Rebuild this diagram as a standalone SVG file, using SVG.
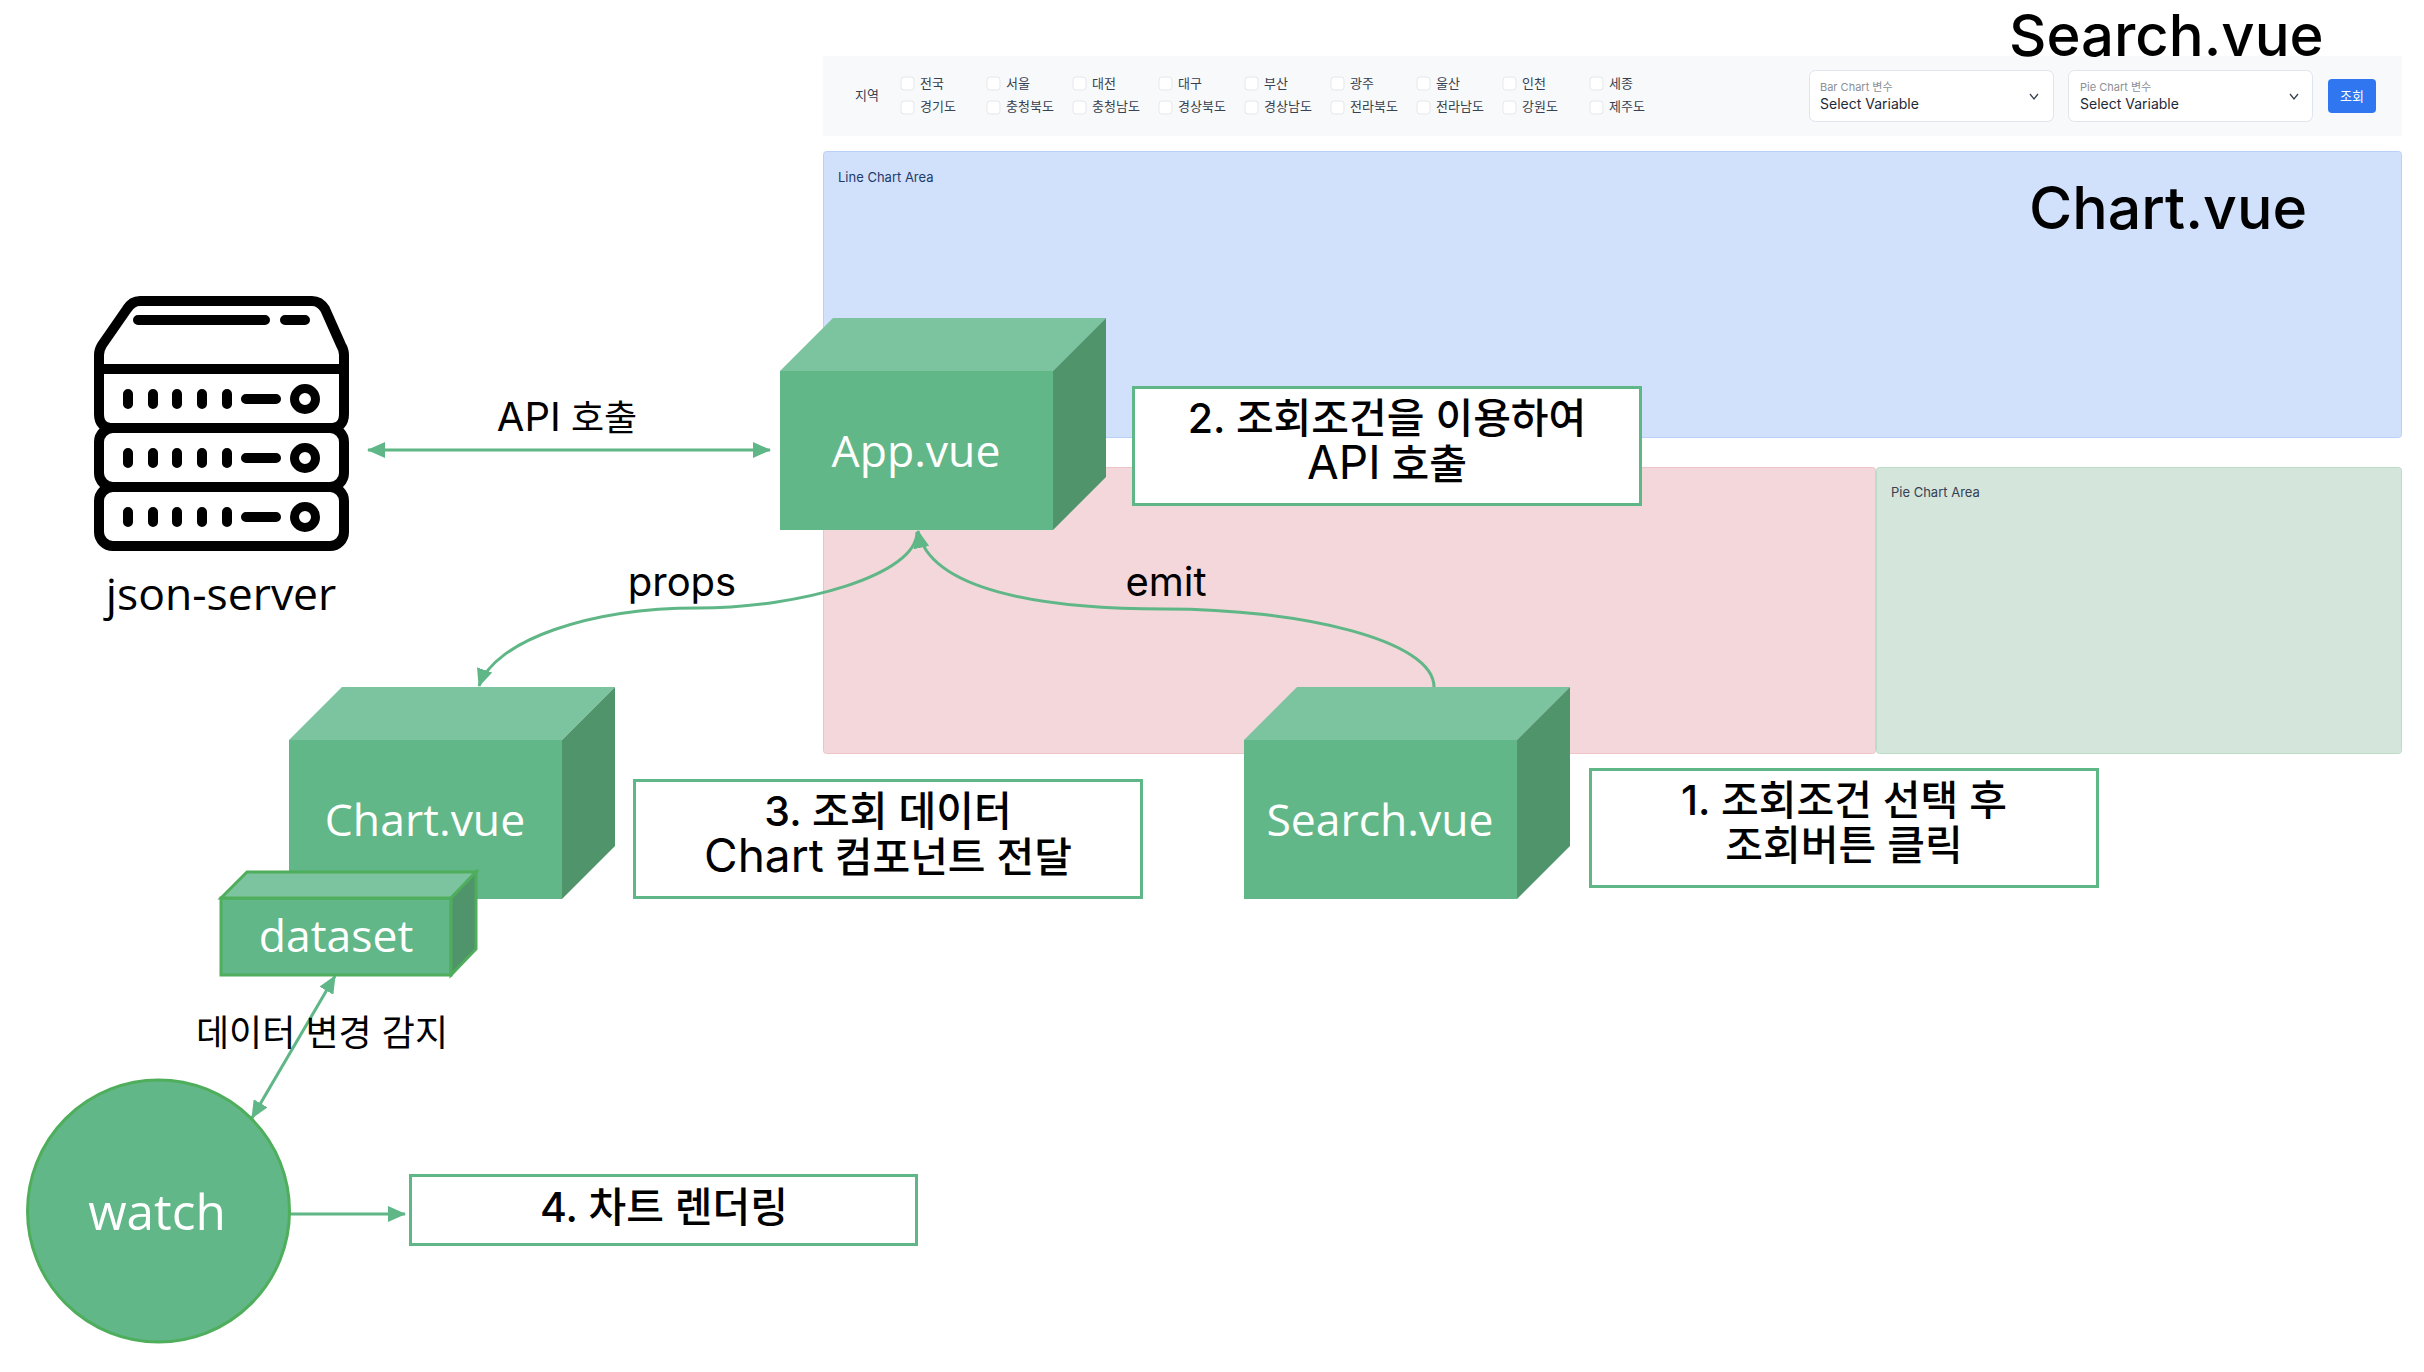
<svg xmlns="http://www.w3.org/2000/svg" width="2424" height="1372" viewBox="0 0 2424 1372">
<style>
text{font-family:Inter,"Noto Sans CJK KR",sans-serif;fill:#000}
.ui{font-family:Inter,"Noto Sans CJK KR",sans-serif}
.big{font-family:Inter,"Liberation Sans",sans-serif;font-size:58px;font-weight:500}
.r{font-size:13px;fill:#374151}
.cb{fill:#fff;stroke:#e5e7eb;stroke-width:1}
.sel{fill:#fff;stroke:#dfe5ec;stroke-width:1}
.lab{font-size:36px;text-anchor:middle}
.lat{font-size:40px}
.note{fill:#fff;stroke:#5fb686;stroke-width:3}
.nt{font-size:41px;text-anchor:middle;font-weight:500}
.latn{font-size:46px;font-weight:400}
.f{fill:#61b787}.t{fill:#7cc49f}.s{fill:#4f946b}
.nv{font-family:"Open Sans","Noto Sans",sans-serif;fill:#fff;font-size:44.500px;text-anchor:middle}
.conn{fill:none;stroke:#5fb686;stroke-width:3}
.ico{fill:none;stroke:#000;stroke-width:10;stroke-linecap:round;stroke-linejoin:round}
.dot{fill:none;stroke:#000;stroke-width:10;stroke-linecap:round}
</style>
<defs>
<marker id="ah" viewBox="0 0 18 16" refX="17" refY="8" markerWidth="18" markerHeight="16" markerUnits="userSpaceOnUse" orient="auto-start-reverse"><path d="M0 0L18 8L0 16Z" fill="#5fb686"/></marker>
<g id="unit">
<path class="dot" d="M128 0v10M153 0v10M177 0v10M202 0v10M227 0v10M246 5h30"/>
<circle cx="305" cy="5" r="10.500" fill="none" stroke="#000" stroke-width="9"/>
</g>
</defs>

<g id="screen">
<rect x="823" y="56" width="1579" height="80" fill="#f8f9fa"/>
<rect x="823.500" y="151.500" width="1578" height="286" rx="3" fill="#d1e1fb" stroke="#b9d0f7"/>
<rect x="823.500" y="467.500" width="1052" height="286" rx="3" fill="#f3d7da" stroke="#ecc4c8"/>
<rect x="1876.500" y="467.500" width="525" height="286" rx="3" fill="#d4e5dc" stroke="#bcdcc6"/>
<text class="ui" x="838" y="182" font-size="13" style="fill:#1f3a6b">Line Chart Area</text>
<text class="ui" x="1891" y="497" font-size="13" style="fill:#374151">Pie Chart Area</text>
<text class="ui r" x="855" y="100">지역</text>
<g id="checks">
<rect class="cb" x="901" y="77" width="13" height="13" rx="3"/><rect class="cb" x="901" y="101" width="13" height="13" rx="3"/>
<rect class="cb" x="987" y="77" width="13" height="13" rx="3"/><rect class="cb" x="987" y="101" width="13" height="13" rx="3"/>
<rect class="cb" x="1073" y="77" width="13" height="13" rx="3"/><rect class="cb" x="1073" y="101" width="13" height="13" rx="3"/>
<rect class="cb" x="1159" y="77" width="13" height="13" rx="3"/><rect class="cb" x="1159" y="101" width="13" height="13" rx="3"/>
<rect class="cb" x="1245" y="77" width="13" height="13" rx="3"/><rect class="cb" x="1245" y="101" width="13" height="13" rx="3"/>
<rect class="cb" x="1331" y="77" width="13" height="13" rx="3"/><rect class="cb" x="1331" y="101" width="13" height="13" rx="3"/>
<rect class="cb" x="1417" y="77" width="13" height="13" rx="3"/><rect class="cb" x="1417" y="101" width="13" height="13" rx="3"/>
<rect class="cb" x="1503" y="77" width="13" height="13" rx="3"/><rect class="cb" x="1503" y="101" width="13" height="13" rx="3"/>
<rect class="cb" x="1590" y="77" width="13" height="13" rx="3"/><rect class="cb" x="1590" y="101" width="13" height="13" rx="3"/>
<text class="ui r" x="920" y="88">전국</text><text class="ui r" x="920" y="111">경기도</text>
<text class="ui r" x="1006" y="88">서울</text><text class="ui r" x="1006" y="111">충청북도</text>
<text class="ui r" x="1092" y="88">대전</text><text class="ui r" x="1092" y="111">충청남도</text>
<text class="ui r" x="1178" y="88">대구</text><text class="ui r" x="1178" y="111">경상북도</text>
<text class="ui r" x="1264" y="88">부산</text><text class="ui r" x="1264" y="111">경상남도</text>
<text class="ui r" x="1350" y="88">광주</text><text class="ui r" x="1350" y="111">전라북도</text>
<text class="ui r" x="1436" y="88">울산</text><text class="ui r" x="1436" y="111">전라남도</text>
<text class="ui r" x="1522" y="88">인천</text><text class="ui r" x="1522" y="111">강원도</text>
<text class="ui r" x="1609" y="88">세종</text><text class="ui r" x="1609" y="111">제주도</text>
</g>
<g id="selects">
<rect class="sel" x="1809.500" y="70.500" width="244" height="51" rx="6"/>
<text class="ui" x="1820" y="91" font-size="11" style="fill:#8b8f96">Bar Chart 변수</text>
<text class="ui" x="1820" y="109" font-size="14" style="fill:#1f2937">Select Variable</text>
<path d="M2030 94l4 5 4-5" fill="none" stroke="#374151" stroke-width="1.300"/>
<rect class="sel" x="2068.500" y="70.500" width="244" height="51" rx="6"/>
<text class="ui" x="2080" y="91" font-size="11" style="fill:#8b8f96">Pie Chart 변수</text>
<text class="ui" x="2080" y="109" font-size="14" style="fill:#1f2937">Select Variable</text>
<path d="M2290 94l4 5 4-5" fill="none" stroke="#374151" stroke-width="1.300"/>
<rect x="2328" y="79" width="48" height="34" rx="4" fill="#2f76f0"/>
<text class="ui" x="2352" y="101" font-size="13" text-anchor="middle" style="fill:#fff">조회</text>
</g>
<text class="big" x="2009" y="56">Search.vue</text>
<text class="big" x="2029" y="229" style="font-size:59px">Chart.vue</text>
</g>

<g id="connectors">
<path class="conn" d="M368 450H770" marker-start="url(#ah)" marker-end="url(#ah)"/>
<path class="conn" d="M917 532C917 575 800 608 698 608C590 608 495 640 479 686" marker-end="url(#ah)"/>
<path class="conn" d="M1434 687C1434 640 1300 609 1165 609C1040 609 930 590 918 531" marker-end="url(#ah)"/>
<path class="conn" d="M335 976L252 1118" marker-start="url(#ah)" marker-end="url(#ah)"/>
<path class="conn" d="M290 1214H405" marker-end="url(#ah)"/>
</g>

<g id="server">
<path class="ico" d="M99 369L99 355Q99 350 102 345L127 309Q132 301 140 301H312Q320 301 325 309L341 345Q344 350 344 355V369V414Q344 428 330 428H113Q99 428 99 414Z"/>
<path class="ico" d="M99 369H344"/>
<rect class="ico" x="99" y="428" width="245" height="59" rx="14"/>
<rect class="ico" x="99" y="487" width="245" height="59" rx="14"/>
<path class="ico" d="M138 320H265M285 320H305"/>
<use href="#unit" x="0" y="394"/>
<use href="#unit" x="0" y="453"/>
<use href="#unit" x="0" y="512"/>
<text x="221" y="610" font-size="44.500" text-anchor="middle" style='font-family:"Open Sans","Noto Sans",sans-serif'>json-server</text>
</g>

<g id="app-vue">
<path class="f" d="M780 371H1053V530H780Z"/><path class="t" d="M780 371L833 318H1106L1053 371Z"/><path class="s" d="M1053 371L1106 318V477L1053 530Z"/>
<text class="nv" x="916" y="467">App.vue</text>
</g>
<g id="chart-vue">
<path class="f" d="M289 740H562V899H289Z"/><path class="t" d="M289 740L342 687H615L562 740Z"/><path class="s" d="M562 740L615 687V846L562 899Z"/>
<text class="nv" x="425" y="836">Chart.vue</text>
</g>
<g id="dataset">
<path class="f" d="M221 898H451V975H221Z" stroke="#4fae5c" stroke-width="3"/><path class="t" d="M221 898L247 872H476L451 898Z" stroke="#4fae5c" stroke-width="3"/><path class="s" d="M451 898L476 872V949L451 975Z" stroke="#4fae5c" stroke-width="3"/>
<text class="nv" x="336" y="952">dataset</text>
</g>
<g id="search-vue">
<path class="f" d="M1244 740H1517V899H1244Z"/><path class="t" d="M1244 740L1297 687H1570L1517 740Z"/><path class="s" d="M1517 740L1570 687V846L1517 899Z"/>
<text class="nv" x="1380" y="836">Search.vue</text>
</g>
<g id="watch">
<circle cx="158.500" cy="1211" r="131" fill="#61b787" stroke="#4fae5c" stroke-width="3"/>
<text class="nv" x="157" y="1230" style="font-size:49.500px">watch</text>
</g>

<g id="labels">
<text class="lab" x="567" y="431"><tspan class="lat">API</tspan> 호출</text>
<text class="lab lat" x="682" y="596">props</text>
<text class="lab lat" x="1166" y="596">emit</text>
<text class="lab" x="322" y="1046">데이터 변경 감지</text>
</g>

<g id="note-1">
<rect class="note" x="1590.500" y="769.500" width="507" height="117"/>
<text class="nt" x="1844" y="815">1. 조회조건 선택 후</text>
<text class="nt" x="1844" y="860">조회버튼 클릭</text>
</g>
<g id="note-2">
<rect class="note" x="1133.500" y="387.500" width="507" height="117"/>
<text class="nt" x="1387" y="433">2. 조회조건을 이용하여</text>
<text class="nt" x="1387" y="479"><tspan class="latn">API</tspan> 호출</text>
</g>
<g id="note-3">
<rect class="note" x="634.500" y="780.500" width="507" height="117"/>
<text class="nt" x="888" y="826">3. 조회 데이터</text>
<text class="nt" x="888" y="872"><tspan class="latn">Chart</tspan> 컴포넌트 전달</text>
</g>
<g id="note-4">
<rect class="note" x="410.500" y="1175.500" width="506" height="69"/>
<text class="nt" x="664" y="1222">4. 차트 렌더링</text>
</g>
</svg>
